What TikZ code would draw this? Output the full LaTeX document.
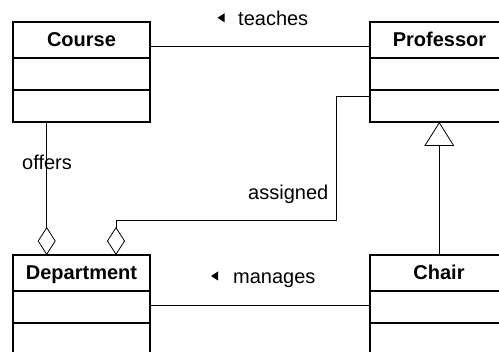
\documentclass[tikz,border=0pt]{standalone}
\usepackage{fontspec}
\setmainfont{Liberation Sans}
\usetikzlibrary{arrows.meta,calc}
\tikzset{
  classbox/.style={draw=black, line width=1.2pt, rectangle, inner sep=0pt, outer sep=0pt,
    minimum width=137pt, minimum height=100pt, anchor=north west},
  classname/.style={font=\bfseries\fontsize{20}{24}\selectfont, anchor=base, inner sep=0pt},
  divider/.style={line width=1.2pt},
  conn/.style={draw=black, line width=0.8pt},
  lbl/.style={font=\fontsize{20}{24}\selectfont, anchor=base west, inner sep=0pt},
  dirmark/.style={fill=black},
  aggr/.style={{Diamond[open,length=28pt,width=18pt]}-},
  gen/.style={-{Triangle[open,length=24pt,width=30pt]}}
}
\begin{document}
\begin{tikzpicture}[x=1pt,y=-1pt]
\useasboundingbox (0,0) rectangle (499,352);
\fill[white] (0,0) rectangle (499,352);
\clip (0,0) rectangle (499,352);

% classes
\node[classbox] (course) at (13,22) {};
\node[classbox] (professor) at (370,22) {};
\node[classbox] (dept) at (13,255) {};
\node[classbox] (chair) at (370,255) {};

\foreach \c in {course,professor,dept,chair}{
  \draw[divider] ($(\c.north west)+(0,36)$) -- ($(\c.north east)+(0,36)$);
  \draw[divider] ($(\c.north west)+(0,68)$) -- ($(\c.north east)+(0,68)$);
}

\node[classname] (courseT) at ($(course.north)+(0,24.5)$) {Course};
\node[classname] (professorT) at ($(professor.north)+(1,24.5)$) {Professor};
\node[classname] (deptT) at ($(dept.north)+(0,25)$) {Department};
\node[classname] (chairT) at ($(chair.north)+(0.5,25)$) {Chair};

% connectors
\draw[conn] ($(course.north east)+(0,24.7)$) -- ($(professor.north west)+(0,24.7)$);
\draw[conn,aggr] ($(dept.north west)+(33.7,0)$) -- ($(course.south west)+(33.7,0)$);
\coordinate (bend) at (336.7,220.7);
\draw[conn,-{Diamond[open,length=28pt,width=18pt]}] ($(professor.north west)+(0,74.7)$) -| (bend) -| ($(dept.north west)+(103,0)$);
\draw[conn,gen] ($(chair.north west)+(69.3,0)$) -- ($(professor.south west)+(69.3,0)$);
\draw[conn] ($(dept.north east)+(0,50.7)$) -- ($(chair.north west)+(0,50.7)$);

% labels
\fill[dirmark] (217.5,17.8) -- (224.5,13.3) -- (224.5,22.3) -- cycle;
\node[lbl] (teaches) at (238,25.3) {teaches};
\fill[dirmark] (211,276) -- (218,271.5) -- (218,280.5) -- cycle;
\node[lbl] (manages) at (233,284) {manages};
\node[lbl] (offers) at (22,169.5) {offers};
\node[lbl] (assigned) at (248,200) {assigned};
\end{tikzpicture}
\end{document}
